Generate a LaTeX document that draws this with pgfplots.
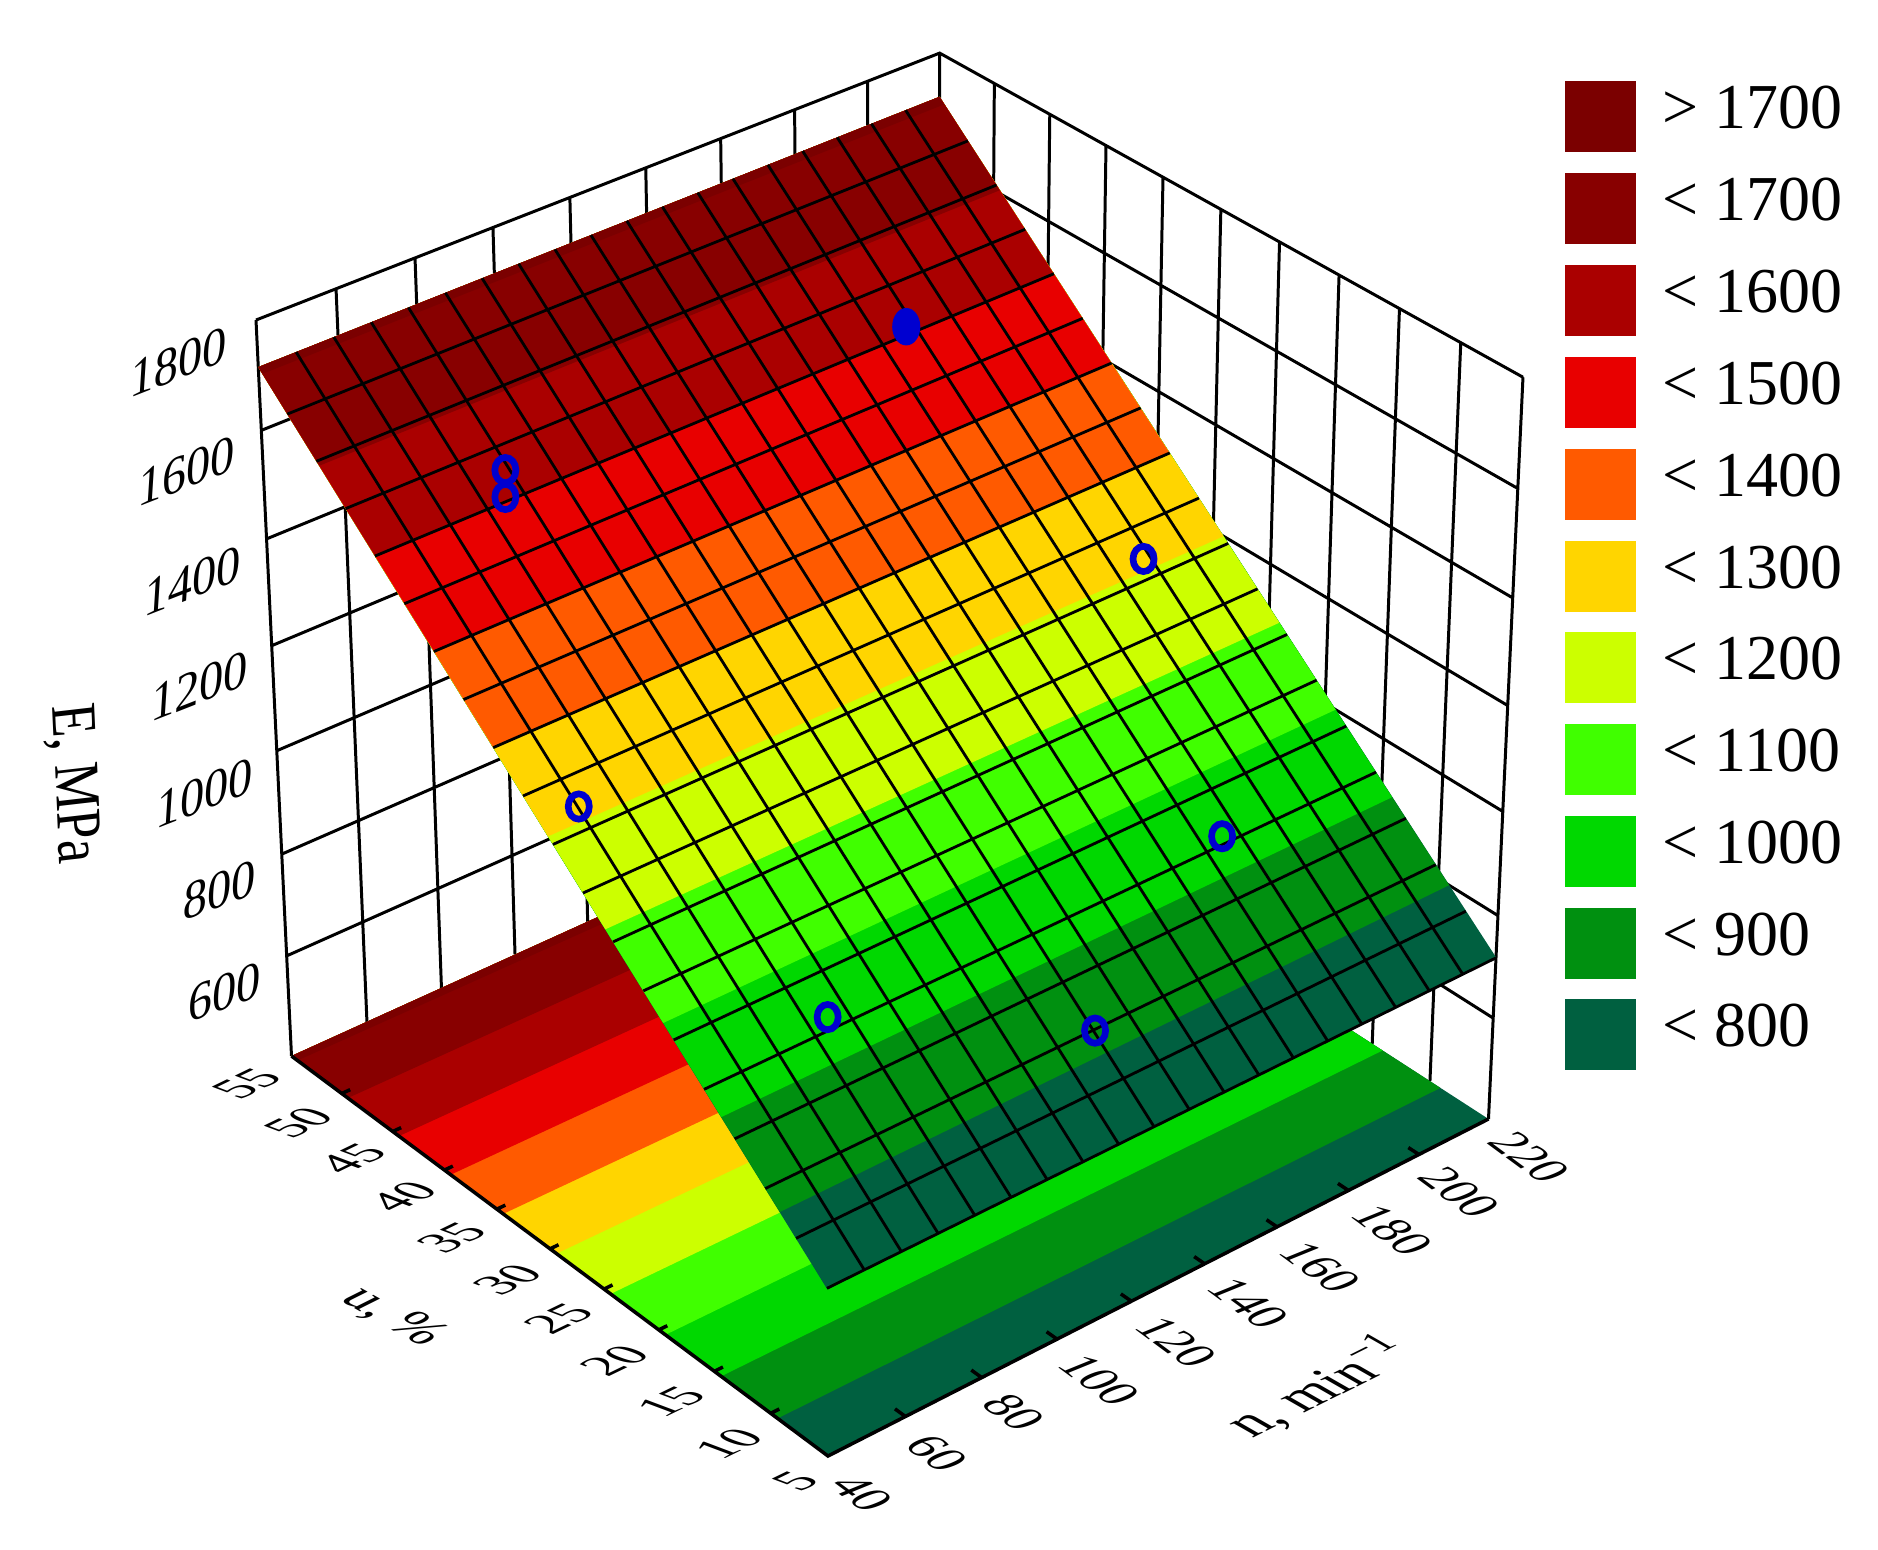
\documentclass[border=0pt]{standalone}
\usepackage{pgfplots}
\pgfplotsset{compat=1.18}
\usepackage{fontspec}
\setmainfont{Liberation Serif}
\definecolor{cA}{HTML}{7B0000}
\definecolor{cB}{HTML}{880000}
\definecolor{cC}{HTML}{AA0000}
\definecolor{cD}{HTML}{E80000}
\definecolor{cE}{HTML}{FF5A00}
\definecolor{cF}{HTML}{FFD500}
\definecolor{cG}{HTML}{CCFF00}
\definecolor{cH}{HTML}{40FF00}
\definecolor{cI}{HTML}{00D800}
\definecolor{cJ}{HTML}{009010}
\definecolor{cK}{HTML}{006040}
\definecolor{markblue}{HTML}{0000D0}
\pgfplotsset{
  /pgfplots/table/prj/.style={row sep=\\,
    x expr={px(\thisrow{n},\thisrow{u},\thisrow{E})},
    y expr={py(\thisrow{n},\thisrow{u},\thisrow{E})}},
}
\newcommand\floorband[3]{\addplot[fill=#1,draw=none] table[prj]{n u E\\ 40 #2 400\\ 220 #3 400\\ 220 55 400\\ 40 55 400\\};}
\newcommand\surfband[4]{\addplot[fill=#1,draw=none] table[prj]{n u E\\ 40 #2 #4\\ 220 #3 #4\\ 220 55 1718\\ 40 55 1715\\};}
\newcommand\legitem[3]{\addplot[fill=#1,draw=none] coordinates {(1565,#2) (1636,#2) (1636,#2+71) (1565,#2+71)};
  \node[anchor=base west,inner sep=0pt,font=\fontsize{18.2}{20}\selectfont] at (axis cs:1662,#2+47) {#3};}
\newcommand\tf{\fontsize{14}{16}\selectfont}
\newcommand\ulab[3]{\node[cm={.93,.45,-.96,.36,(0,0)},inner sep=0pt,font=\tf] at (axis cs:#1,#2) {#3};}
\newcommand\nlab[3]{\node[cm={.77,-.57,.96,.39,(0,0)},inner sep=0pt,font=\tf] at (axis cs:#1,#2) {#3};}
\newcommand\zlab[3]{\node[cm={.98,.385,.07,1.1,(0,0)},inner sep=0pt,font=\tf] at (axis cs:#1,#2) {#3};}
\begin{document}
% perspective projection of (n,u,E) on the picture, in reference pixels
\begin{tikzpicture}[declare function={
    wd(\p,\q,\r)=1+0.0618*(\p-40)/180+0.07474*(\q-5)/50-0.05902*(\r-400)/1400;
    px(\p,\q,\r)=(828+752.5*(\p-40)/180-514.71*(\q-5)/50-53.26*(\r-400)/1400)/wd(\p,\q,\r);
    py(\p,\q,\r)=(1456-267.85*(\p-40)/180-321.07*(\q-5)/50-809.9*(\r-400)/1400)/wd(\p,\q,\r);
  }]
\begin{axis}[scale only axis,width=18.78cm,height=15.49cm,xmin=0,xmax=1878,ymin=0,ymax=1549,
  y dir=reverse,hide axis,clip=false]
\path (axis cs:0,0) rectangle (axis cs:1878,1549);
% walls
\addplot[black,line width=.85pt,unbounded coords=jump] table[prj]{n u E\\
40 55 1800\\ 220 55 1800\\ 220 5 1800\\ nan nan nan\\
40 55 1600\\ 220 55 1600\\ 220 5 1600\\ nan nan nan\\
40 55 1400\\ 220 55 1400\\ 220 5 1400\\ nan nan nan\\
40 55 1200\\ 220 55 1200\\ 220 5 1200\\ nan nan nan\\
40 55 1000\\ 220 55 1000\\ 220 5 1000\\ nan nan nan\\
40 55 800\\ 220 55 800\\ 220 5 800\\ nan nan nan\\
40 55 600\\ 220 55 600\\ 220 5 600\\ nan nan nan\\
40 55 400\\ 40 55 1800\\ nan nan nan\\
60 55 400\\ 60 55 1800\\ nan nan nan\\
80 55 400\\ 80 55 1800\\ nan nan nan\\
100 55 400\\ 100 55 1800\\ nan nan nan\\
120 55 400\\ 120 55 1800\\ nan nan nan\\
140 55 400\\ 140 55 1800\\ nan nan nan\\
160 55 400\\ 160 55 1800\\ nan nan nan\\
180 55 400\\ 180 55 1800\\ nan nan nan\\
200 55 400\\ 200 55 1800\\ nan nan nan\\
220 55 400\\ 220 55 1800\\ nan nan nan\\
220 50 400\\ 220 50 1800\\ nan nan nan\\
220 45 400\\ 220 45 1800\\ nan nan nan\\
220 40 400\\ 220 40 1800\\ nan nan nan\\
220 35 400\\ 220 35 1800\\ nan nan nan\\
220 30 400\\ 220 30 1800\\ nan nan nan\\
220 25 400\\ 220 25 1800\\ nan nan nan\\
220 20 400\\ 220 20 1800\\ nan nan nan\\
220 15 400\\ 220 15 1800\\ nan nan nan\\
220 10 400\\ 220 10 1800\\ nan nan nan\\
220 5 400\\ 220 5 1800\\
};
% floor
\floorband{cK}{5}{5}
\floorband{cJ}{9.4}{9.10}
\floorband{cI}{14.4}{14.10}
\floorband{cH}{19.4}{19.10}
\floorband{cG}{24.4}{24.10}
\floorband{cF}{29.4}{29.10}
\floorband{cE}{34.4}{34.10}
\floorband{cD}{39.4}{39.10}
\floorband{cC}{44.4}{44.10}
\floorband{cB}{49.4}{49.10}
\floorband{cA}{54.4}{54.10}
% floor edges and ticks
\addplot[black,line width=1pt,unbounded coords=jump] table[prj]{n u E\\
40 55 400\\ 40 5 400\\ 220 5 400\\ nan nan nan\\
60 5 400\\ 60 5.9 400\\ nan nan nan\\
80 5 400\\ 80 5.9 400\\ nan nan nan\\
100 5 400\\ 100 5.9 400\\ nan nan nan\\
120 5 400\\ 120 5.9 400\\ nan nan nan\\
140 5 400\\ 140 5.9 400\\ nan nan nan\\
160 5 400\\ 160 5.9 400\\ nan nan nan\\
180 5 400\\ 180 5.9 400\\ nan nan nan\\
200 5 400\\ 200 5.9 400\\ nan nan nan\\
40 10 400\\ 42.2 10 400\\ nan nan nan\\
40 15 400\\ 42.2 15 400\\ nan nan nan\\
40 20 400\\ 42.2 20 400\\ nan nan nan\\
40 25 400\\ 42.2 25 400\\ nan nan nan\\
40 30 400\\ 42.2 30 400\\ nan nan nan\\
40 35 400\\ 42.2 35 400\\ nan nan nan\\
40 40 400\\ 42.2 40 400\\ nan nan nan\\
40 45 400\\ 42.2 45 400\\ nan nan nan\\
40 50 400\\ 42.2 50 400\\
};
% surface bands
\surfband{cK}{5}{5}{719}
\surfband{cJ}{9.02}{9.10}{800}
\surfband{cI}{14.05}{14.10}{900}
\surfband{cH}{19.07}{19.10}{1000}
\surfband{cG}{24.10}{24.10}{1100}
\surfband{cF}{29.12}{29.10}{1200}
\surfband{cE}{33.95}{33.95}{1296.5}
\surfband{cD}{39.2}{39.2}{1401.5}
\surfband{cC}{44.45}{44.45}{1506}
\surfband{cB}{49.45}{49.45}{1606}
\surfband{cA}{54.6}{54.6}{1708}
% mesh
\addplot[black,line width=.8pt,unbounded coords=jump] table[prj]{n u E\\
40 5 720\\ 220 5 718\\ nan nan nan\\
40 7.632 772.4\\ 220 7.632 770.6\\ nan nan nan\\
40 10.263 824.7\\ 220 10.263 823.3\\ nan nan nan\\
40 12.895 877.1\\ 220 12.895 875.9\\ nan nan nan\\
40 15.526 929.5\\ 220 15.526 928.5\\ nan nan nan\\
40 18.158 981.9\\ 220 18.158 981.2\\ nan nan nan\\
40 20.789 1034.2\\ 220 20.789 1033.8\\ nan nan nan\\
40 23.421 1086.6\\ 220 23.421 1086.4\\ nan nan nan\\
40 26.053 1139\\ 220 26.053 1139\\ nan nan nan\\
40 28.684 1191.3\\ 220 28.684 1191.7\\ nan nan nan\\
40 31.316 1243.7\\ 220 31.316 1244.3\\ nan nan nan\\
40 33.947 1296.1\\ 220 33.947 1296.9\\ nan nan nan\\
40 36.579 1348.4\\ 220 36.579 1349.6\\ nan nan nan\\
40 39.211 1400.8\\ 220 39.211 1402.2\\ nan nan nan\\
40 41.842 1453.2\\ 220 41.842 1454.8\\ nan nan nan\\
40 44.474 1505.6\\ 220 44.474 1507.5\\ nan nan nan\\
40 47.105 1557.9\\ 220 47.105 1560.1\\ nan nan nan\\
40 49.737 1610.3\\ 220 49.737 1612.7\\ nan nan nan\\
40 52.368 1662.7\\ 220 52.368 1665.3\\ nan nan nan\\
49.47 5 719.9\\ 49.47 55 1715.2\\ nan nan nan\\
58.95 5 719.8\\ 58.95 55 1715.3\\ nan nan nan\\
68.42 5 719.7\\ 68.42 55 1715.5\\ nan nan nan\\
77.89 5 719.6\\ 77.89 55 1715.6\\ nan nan nan\\
87.37 5 719.5\\ 87.37 55 1715.8\\ nan nan nan\\
96.84 5 719.4\\ 96.84 55 1715.9\\ nan nan nan\\
106.32 5 719.3\\ 106.32 55 1716.1\\ nan nan nan\\
115.79 5 719.2\\ 115.79 55 1716.3\\ nan nan nan\\
125.26 5 719.1\\ 125.26 55 1716.4\\ nan nan nan\\
134.74 5 718.9\\ 134.74 55 1716.6\\ nan nan nan\\
144.21 5 718.8\\ 144.21 55 1716.7\\ nan nan nan\\
153.68 5 718.7\\ 153.68 55 1716.9\\ nan nan nan\\
163.16 5 718.6\\ 163.16 55 1717.1\\ nan nan nan\\
172.63 5 718.5\\ 172.63 55 1717.2\\ nan nan nan\\
182.11 5 718.4\\ 182.11 55 1717.4\\ nan nan nan\\
191.58 5 718.3\\ 191.58 55 1717.5\\ nan nan nan\\
201.05 5 718.2\\ 201.05 55 1717.7\\ nan nan nan\\
210.53 5 718.1\\ 210.53 55 1717.8\\
};
% observations
\addplot[only marks,mark=o,mark size=3pt,color=markblue,line width=1.9pt,every mark/.append style={yscale=1.2}] table[prj]{n u E\\
73.2 16.1 941\\ 125.6 10.2 823\\ 178 15.9 936\\ 199.4 29.7 1211\\ 49.7 29.8 1214\\ 77 45.9 1534\\ 73.6 44.7 1510\\ 
};
\addplot[only marks,mark=*,mark size=3.8pt,color=markblue,every mark/.append style={yscale=1.35}] table[prj]{n u E\\
180.3 44.9 1514\\
};
% legend
\legitem{cA}{81}{> 1700}
\legitem{cB}{173}{< 1700}
\legitem{cC}{265}{< 1600}
\legitem{cD}{357}{< 1500}
\legitem{cE}{449}{< 1400}
\legitem{cF}{541}{< 1300}
\legitem{cG}{632}{< 1200}
\legitem{cH}{724}{< 1100}
\legitem{cI}{816}{< 1000}
\legitem{cJ}{908}{< 900}
\legitem{cK}{999}{< 800}
% z labels
\zlab{179}{362}{1800}
\zlab{187}{471}{1600}
\zlab{193}{581}{1400}
\zlab{200}{686}{1200}
\zlab{205}{793}{1000}
\zlab{220}{890}{800}
\zlab{225}{992}{600}
% u labels
\ulab{247}{1084}{55}
\ulab{299}{1123}{50}
\ulab{352}{1159}{45}
\ulab{403}{1197}{40}
\ulab{452}{1238}{35}
\ulab{508}{1280}{30}
\ulab{559}{1319}{25}
\ulab{615}{1361}{20}
\ulab{671}{1402}{15}
\ulab{729}{1444}{10}
\ulab{796}{1481}{5}
% n labels
\nlab{862}{1493}{40}
\nlab{937}{1453}{60}
\nlab{1014}{1412}{80}
\nlab{1099}{1380}{100}
\nlab{1176}{1342}{120}
\nlab{1248}{1303}{140}
\nlab{1320}{1267}{160}
\nlab{1392}{1230}{180}
\nlab{1459}{1192}{200}
\nlab{1529}{1157}{220}
% titles
\node[cm={.05,-1.08,1.3,.15,(0,0)},inner sep=0pt,font=\tf] at (axis cs:72,784) {E, MPa};
\node[cm={.93,-.52,1.0,.5,(0,0)},inner sep=0pt,font=\tf] at (axis cs:393,1317) {u, \%};
\node[cm={1.02,.51,-1.05,.6,(0,0)},inner sep=0pt,font=\tf] at (axis cs:1319,1387) {n, min\textsuperscript{−1}};
\end{axis}
\end{tikzpicture}
\end{document}
